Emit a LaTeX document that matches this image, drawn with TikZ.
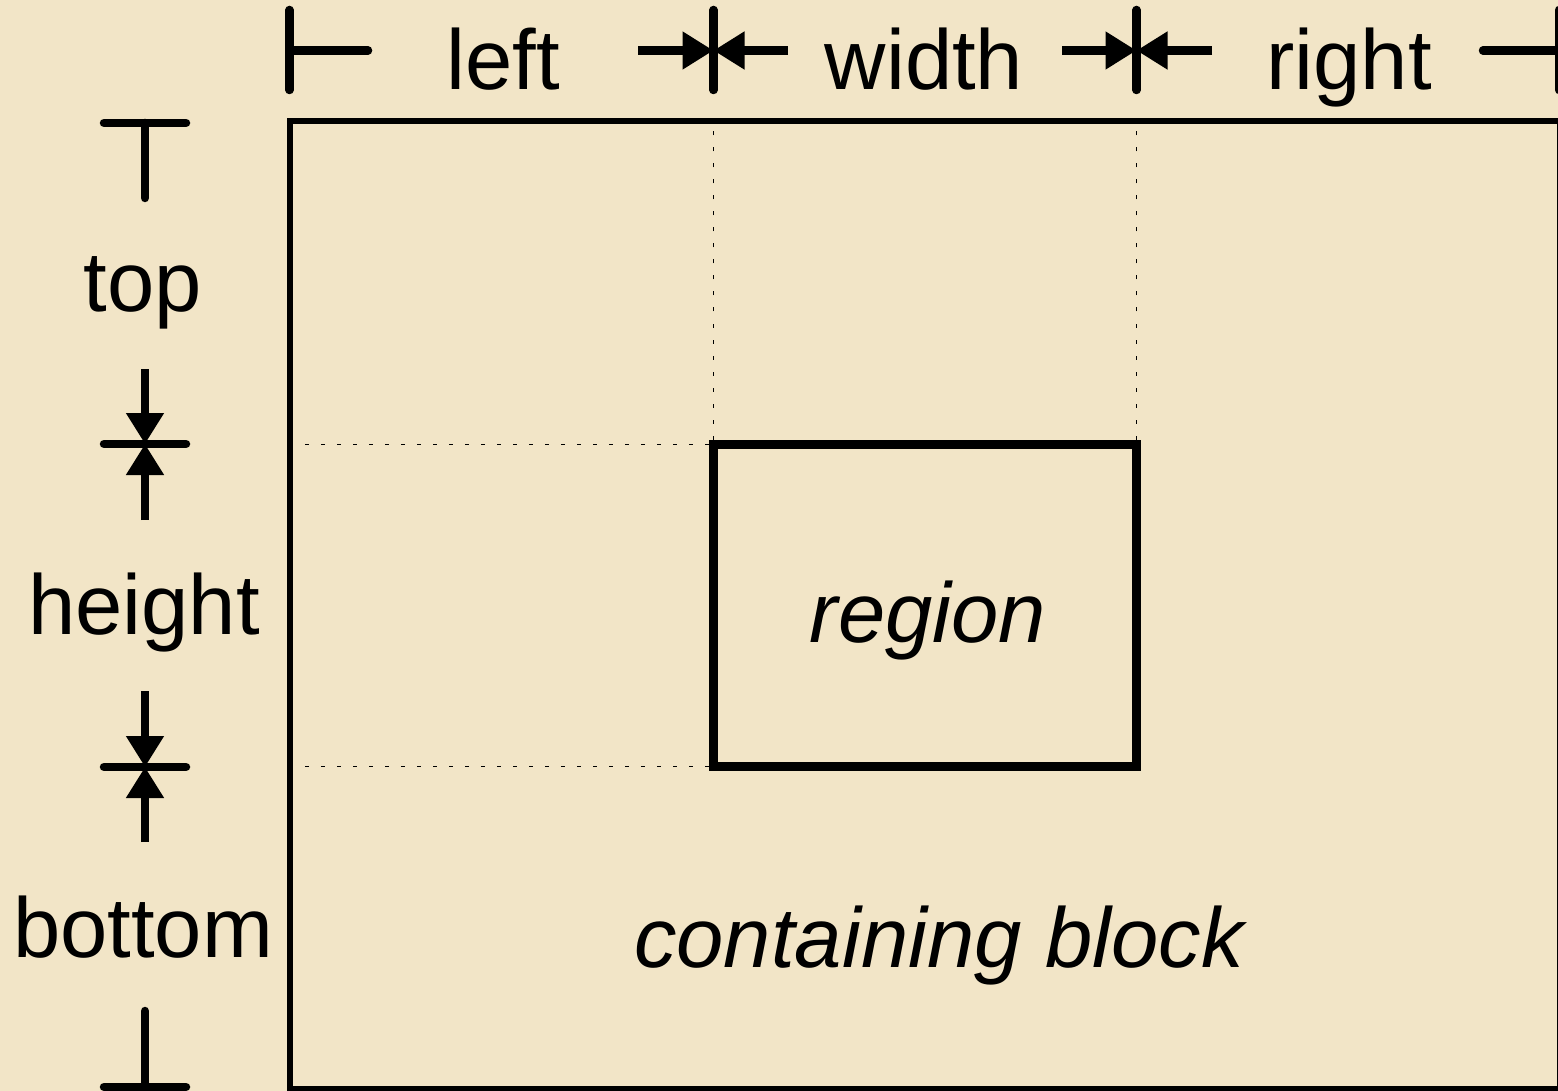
\documentclass[tikz,border=0pt]{standalone}
\usepackage{fontspec}
\setmainfont{Liberation Sans}
\usetikzlibrary{arrows.meta}
\definecolor{paper}{RGB}{242,229,199}
\tikzset{
  dimline/.style={line width=8.5pt, line cap=round},
  dimarrow/.style={line width=8.5pt, line cap=butt, -{Triangle[length=31pt,width=36pt]}},
  guide/.style={line width=1.5pt, dash pattern=on 4pt off 12pt},
  lbl/.style={anchor=base, inner sep=0pt, font=\fontsize{85}{100}\selectfont},
}
\begin{document}
\begin{tikzpicture}[x=1pt,y=-1pt]
  \fill[paper] (0,0) rectangle (1558,1091);
  \useasboundingbox (0,0) rectangle (1558,1091);
  \clip (0,0) rectangle (1558,1091);

  % containing block and region
  \coordinate (cbNW) at (289.5,121.5);
  \coordinate (cbSE) at (1559.5,1089);
  \draw[line width=6pt] (cbNW) rectangle (cbSE);
  \coordinate (rgNW) at (713.5,444.5);
  \coordinate (rgSE) at (1136.5,766.5);
  \coordinate (rgNE) at (1136.5,444.5);
  \coordinate (rgSW) at (713.5,766.5);
  \draw[line width=8.5pt] (rgNW) rectangle (rgSE);

  % dotted guides from the region to the containing block
  \coordinate (gTL) at (713.5,125);
  \coordinate (gTR) at (1136.5,125);
  \coordinate (gLT) at (293,444.5);
  \coordinate (gLB) at (293,766.5);
  \draw[guide] (rgNW) ++(0,-5) -- (gTL);
  \draw[guide] (rgNE) ++(0,-5) -- (gTR);
  \draw[guide] (rgNW) ++(-5,0) -- (gLT);
  \draw[guide] (rgSW) ++(-5,0) -- (gLB);

  % labels
  \node[lbl] (lLeft)   at (503,90)  {left};
  \node[lbl] (lWidth)  at (924,90)  {width};
  \node[lbl] (lRight)  at (1349,90) {right};
  \node[lbl] (lTop)    at (143,312) {top};
  \node[lbl] (lHeight) at (144,634) {height};
  \node[lbl] (lBottom) at (143,957) {bottom};
  \node[lbl, font=\fontsize{85}{100}\selectfont\itshape] (lRegion) at (928,642) {region};
  \node[lbl, font=\fontsize{85}{100}\selectfont\itshape] (lBlock) at (939,967) {containing block};

  % horizontal dimensions
  \coordinate (hA) at (289.5,50.5);
  \coordinate (hB) at (713.5,50.5);
  \coordinate (hC) at (1136.5,50.5);
  \coordinate (hD) at (1559,50.5);
  \foreach \t in {hA,hB,hC,hD}
    \draw[dimline] (\t) ++(0,-40.5) -- ++(0,80);
  \coordinate (hA1) at (368,50.5);
  \coordinate (hB0) at (638,50.5);
  \coordinate (hB1) at (788,50.5);
  \coordinate (hC0) at (1062,50.5);
  \coordinate (hC1) at (1212,50.5);
  \coordinate (hD0) at (1483,50.5);
  \draw[dimline] (hA) -- (hA1);
  \draw[dimarrow] (hB0) -- (hB);
  \draw[dimarrow] (hB1) -- (hB);
  \draw[dimarrow] (hC0) -- (hC);
  \draw[dimarrow] (hC1) -- (hC);
  \draw[dimline] (hD0) -- (hD);

  % vertical dimensions
  \coordinate (vA) at (145,123);
  \coordinate (vB) at (145,444);
  \coordinate (vC) at (145,767);
  \coordinate (vD) at (145,1087);
  \foreach \t in {vA,vB,vC,vD}
    \draw[dimline] (\t) ++(-41,0) -- ++(82,0);
  \coordinate (vA1) at (145,198);
  \coordinate (vB0) at (145,369);
  \coordinate (vB1) at (145,520);
  \coordinate (vC0) at (145,691);
  \coordinate (vC1) at (145,842);
  \coordinate (vD0) at (145,1011);
  \draw[dimline] (vA) -- (vA1);
  \draw[dimarrow] (vB0) -- (vB);
  \draw[dimarrow] (vB1) -- (vB);
  \draw[dimarrow] (vC0) -- (vC);
  \draw[dimarrow] (vC1) -- (vC);
  \draw[dimline] (vD0) -- (vD);
\end{tikzpicture}
\end{document}
